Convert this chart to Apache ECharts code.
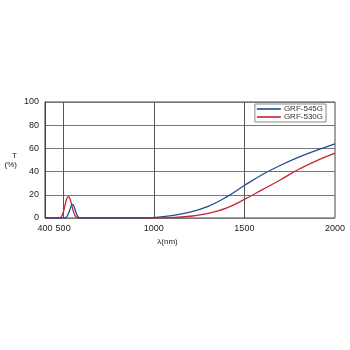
<!DOCTYPE html>
<html><head><meta charset="utf-8">
<script src="https://cdn.jsdelivr.net/npm/echarts@6/dist/echarts.min.js"></script>
<style>html,body{margin:0;padding:0;background:#fff}#c{width:350px;height:350px}</style>
</head><body><div id="c"></div>
<script>
const seriesNames = ['GRF-545G', 'GRF-530G'];
const blueX = [400, 500, 512, 522, 531, 540, 547, 552, 558, 566, 574, 583, 594, 610, 700, 800, 900, 1000, 1100, 1200, 1300, 1400, 1500, 1600, 1700, 1800, 1900, 2000];
const blueY = [0, 0, 0.1, 1.5, 4.5, 8.5, 11.2, 11.8, 10.8, 7.2, 3.6, 1, 0.1, 0, 0, 0, 0, 0.4, 2, 5, 10, 18, 28, 37.5, 45.5, 52.5, 58.5, 64];
const redX = [400, 470, 482, 492, 502, 512, 520, 529, 537, 546, 556, 566, 576, 588, 605, 700, 800, 900, 1000, 1100, 1200, 1300, 1400, 1500, 1600, 1700, 1800, 1900, 2000];
const redY = [0, 0, 0.1, 1.5, 5.5, 12, 16.5, 18.4, 17, 12, 6, 2, 0.4, 0, 0, 0, 0, 0, 0, 0.3, 1.5, 4, 8.5, 16, 24.5, 33, 42, 49.5, 56];
const xLabels = [400, 500, 1000, 1500, 2000];
const xGrid = [500, 1000, 1500];
const colors = ['#1f4f8f', '#c4262e'];

const pairs = (xs, ys) => xs.map((x, i) => [x, ys[i]]);
const chart = echarts.init(document.getElementById('c'), null, {renderer: 'canvas'});
chart.setOption({
  animation: false,
  grid: {left: 45, right: 15, top: 102, bottom: 132, show: true, borderColor: '#444', borderWidth: 1},
  legend: {
    right: 24, top: 104, orient: 'vertical', itemGap: 0, itemWidth: 24, itemHeight: 8,
    icon: 'path://M0,0 L24,0 L24,1.6 L0,1.6 Z',
    borderColor: '#888', borderWidth: 1, padding: [1, 3, 1, 2], backgroundColor: '#fff',
    textStyle: {fontFamily: 'Liberation Sans', fontSize: 8, color: '#333', padding: [0, 0, 0, -2]},
    data: seriesNames
  },
  xAxis: {
    type: 'value', min: 400, max: 2000, interval: 100,
    name: 'λ(nm)', nameLocation: 'middle', nameGap: 20,
    nameTextStyle: {fontFamily: 'Liberation Sans', fontSize: 8, color: '#222', padding: [0, 45, 0, 0]},
    axisLine: {show: false}, axisTick: {show: false}, splitLine: {show: false},
    axisLabel: {
      fontFamily: 'Liberation Sans', fontSize: 9, color: '#222', margin: 6,
      formatter: v => xLabels.includes(v) ? String(v) : ''
    }
  },
  yAxis: {
    type: 'value', min: 0, max: 100, interval: 20,
    name: 'T\n(%)', nameLocation: 'middle', nameGap: 28, nameRotate: 0,
    nameTextStyle: {fontFamily: 'Liberation Sans', fontSize: 8, color: '#222', lineHeight: 9},
    axisLine: {show: true, lineStyle: {color: '#444'}}, axisTick: {show: false},
    splitLine: {show: true, lineStyle: {color: '#777', width: 1}},
    axisLabel: {fontFamily: 'Liberation Sans', fontSize: 9, color: '#222', margin: 6}
  },
  series: [
    {
      name: seriesNames[0], type: 'line', data: pairs(blueX, blueY), smooth: 0.4, showSymbol: false,
      lineStyle: {color: colors[0], width: 1.3}, itemStyle: {color: colors[0]}, z: 3,
      markLine: {
        silent: true, symbol: 'none', label: {show: false},
        lineStyle: {color: '#555', width: 1, type: 'solid'},
        data: xGrid.map(x => ({xAxis: x}))
      }
    },
    {
      name: seriesNames[1], type: 'line', data: pairs(redX, redY), smooth: 0.4, showSymbol: false,
      lineStyle: {color: colors[1], width: 1.3}, itemStyle: {color: colors[1]}, z: 2
    }
  ]
});
</script></body></html>
